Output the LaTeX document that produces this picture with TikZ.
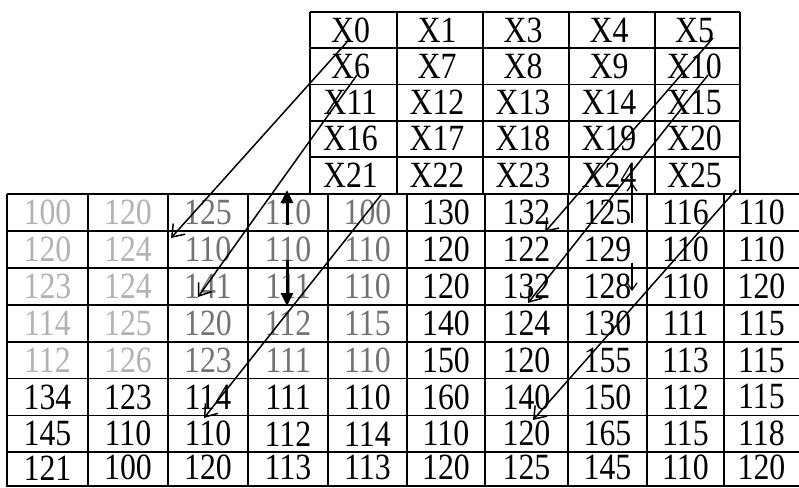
\documentclass[tikz,border=0pt]{standalone}
\usepackage{fontspec}
\setmainfont{Liberation Serif}
\usepackage{graphicx}
\usetikzlibrary{arrows.meta}
\newcommand{\celltxt}[1]{\scalebox{0.86}[1]{#1}}
\newcommand{\tcolx}[1]{\ifcase#1 310\or 397\or 483\or 569\or 655\or 740\fi}
\newcommand{\trowy}[1]{\ifcase#1 12\or 48.2\or 84.4\or 120.6\or 156.8\or 194\fi}
\newcommand{\bcolx}[1]{\ifcase#1 7\or 88\or 168\or 248\or 328\or 407\or 485\or 568\or 647\or 724\or 799\fi}
\begin{document}
\begin{tikzpicture}[x=1pt,y=-1pt,
  gridline/.style={line width=1.8pt, black},
  cell/.style={inner sep=0pt, font=\fontsize{37}{37}\selectfont},
  s0/.style={cell, text=black},
  s1/.style={cell, text=black!30},
  s2/.style={cell, text=black!55},
  diag/.style={line width=1.5pt, -{Straight Barb[length=11pt,width=16pt]}},
  boldarrow/.style={line width=3pt, -{Triangle[length=13pt,width=12pt]}},
  thinarrow/.style={line width=1.3pt, -{Straight Barb[length=7pt,width=10pt]}}]
\useasboundingbox (0,0) rectangle (799,487);
\fill[white] (0,0) rectangle (799,487);

% ---------- top grid ----------
\foreach \i in {0,...,5}{
  \draw[gridline] (310,\trowy{\i}) -- (740,\trowy{\i});
  \draw[gridline] (\tcolx{\i},12) -- (\tcolx{\i},194);
}
\foreach \row [count=\r] in {{X0,X1,X3,X4,X5},{X6,X7,X8,X9,X10},{X11,X12,X13,X14,X15},{X16,X17,X18,X19,X20},{X21,X22,X23,X24,X25}}{
  \foreach \v [count=\c] in \row {
    \pgfmathtruncatemacro\cp{\c-1}
    \pgfmathtruncatemacro\rp{\r-1}
    \pgfmathsetmacro\cx{(\tcolx{\cp}+\tcolx{\c})/2-3}
    \pgfmathsetmacro\cy{(\trowy{\rp}+\trowy{\r})/2}
    \node[s0] (t\r-\c) at (\cx,\cy) {\celltxt{\v}};
  }
}

% ---------- bottom grid ----------
\foreach \k in {0,...,7}{
  \pgfmathsetmacro\yy{194+36.9*\k}
  \draw[gridline] (7,\yy) -- (799,\yy);
}
\draw[gridline] (7,486) -- (799,486);
\foreach \k in {0,...,9}{
  \draw[gridline] (\bcolx{\k},194) -- (\bcolx{\k},487);
}
\foreach \row [count=\r] in {
  {100,120,125,110,100,130,132,125,116,110},
  {120,124,110,110,110,120,122,129,110,110},
  {123,124,141,111,110,120,132,128,110,120},
  {114,125,120,112,115,140,124,130,111,115},
  {112,126,123,111,110,150,120,155,113,115},
  {134,123,114,111,110,160,140,150,112,115},
  {145,110,110,112,114,110,120,165,115,118},
  {121,100,120,113,113,120,125,145,110,120}}{
  \foreach \v [count=\c] in \row {
    \pgfmathtruncatemacro\cp{\c-1}
    \pgfmathsetmacro\cx{(\bcolx{\cp}+\bcolx{\c})/2}
    \pgfmathsetmacro\cy{194+36.9*(\r-0.5)-(\r>7)*3}
    \pgfmathtruncatemacro\shade{(\r<6)*((\c<3)*1+(\c>2)*(\c<6)*2)}
    \node[s\shade] (b\r-\c) at (\cx,\cy) {\celltxt{\v}};
  }
}

% ---------- arrows ----------
\coordinate (a1s) at (347,42);  \coordinate (a1e) at (171,238);
\coordinate (a2s) at (357,75);  \coordinate (a2e) at (198,297);
\coordinate (a3s) at (381,195); \coordinate (a3e) at (204,418);
\coordinate (u1s) at (287,225); \coordinate (u1e) at (287,190);
\coordinate (d1s) at (287,260); \coordinate (d1e) at (287,306);
\coordinate (b1s) at (713,38);  \coordinate (b1e) at (545,232);
\coordinate (b2s) at (708,75);  \coordinate (b2e) at (528,303);
\coordinate (b3s) at (736,190); \coordinate (b3e) at (533,420);
\coordinate (u2s) at (632,223); \coordinate (u2e) at (632,183);
\coordinate (d2s) at (632,263); \coordinate (d2e) at (632,291);

\draw[diag] (a1s) -- (a1e);
\draw[diag] (a2s) -- (a2e);
\draw[diag] (a3s) -- (a3e);
\draw[diag] (b1s) -- (b1e);
\draw[diag] (b2s) -- (b2e);
\draw[diag] (b3s) -- (b3e);
\draw[boldarrow] (u1s) -- (u1e);
\draw[boldarrow] (d1s) -- (d1e);
\draw[thinarrow] (u2s) -- (u2e);
\draw[thinarrow] (d2s) -- (d2e);
\end{tikzpicture}
\end{document}
